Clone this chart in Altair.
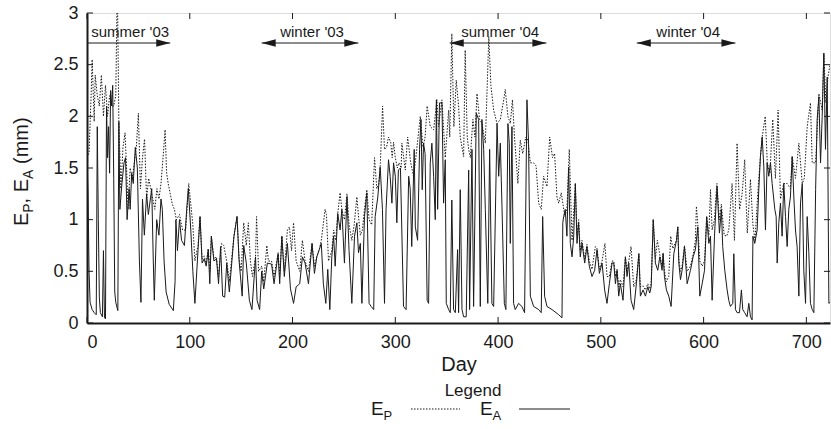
import altair as alt
import pandas as pd

# ---- data: (day, mm) ----
ea_points = [
    (0, 1.60), (1, 1.25), (2, 0.5), (3, 0.2), (5, 0.13), (7, 0.1), (9, 0.08), (10, 1.9), (11, 1.0),
    (12, 0.25), (13, 0.1), (15, 0.06), (16, 0.7), (17, 0.05), (18, 0.04), (19, 2.1), (20, 1.6),
    (21, 1.9), (22, 1.45), (23, 2.25), (24, 2.1), (25, 2.3), (26, 1.4), (27, 0.3), (28, 0.2),
    (30, 0.12), (31, 1.95), (32, 1.1), (34, 1.35), (36, 1.55), (37.5, 1.6), (39, 1.0), (41, 1.3),
    (42, 1.1), (43.5, 1.45), (45, 1.35), (47, 1.7), (49, 1.5), (51, 0.6), (52.5, 0.2), (54, 1.2),
    (55.8, 0.85), (58, 1.25), (59.7, 1.05), (61, 1.15), (63, 1.3), (64.5, 0.6), (65.5, 0.22),
    (67.8, 1.0), (70, 0.85), (72, 1.2), (73.3, 1.1), (75, 0.6), (77, 0.3), (80, 0.18), (84, 0.12),
    (85.7, 0.4), (86.5, 1.0), (88, 0.7), (90, 1.0), (92, 0.8), (94.8, 0.75), (97, 1.1), (98.6, 1.3),
    (101, 0.9), (103, 0.5), (105, 0.19), (108, 0.7), (110, 1.03), (112, 0.58), (114, 0.62),
    (116, 0.55), (118, 0.71), (119.5, 0.38), (121, 0.84), (123.5, 0.6), (126, 0.62), (128, 0.38),
    (130, 0.74), (132, 0.26), (134, 0.25), (136, 0.58), (138.5, 0.3), (143, 0.84), (146, 1.03),
    (148, 0.6), (151, 0.26), (152.5, 0.75), (155, 0.58), (158, 0.22), (160.5, 0.13), (164, 0.64),
    (165.5, 0.22), (168, 0.13), (170, 0.5), (172, 0.33), (175.5, 0.58), (179.6, 0.57), (182, 0.38),
    (186, 0.67), (187.5, 0.38), (189.6, 0.84), (192, 0.45), (195, 0.77), (198, 0.33), (201, 0.19),
    (203.5, 0.35), (207, 0.38), (209.6, 0.64), (212.2, 0.58), (215.5, 0.38), (219, 0.77),
    (221.3, 0.48), (223.6, 0.64), (226, 0.71), (228, 0.77), (230, 0.38), (232.4, 0.19),
    (234.3, 0.52), (236.3, 0.13), (238.2, 0.64), (240, 0.84), (241.5, 0.55), (244, 1.06),
    (246.3, 0.9), (248, 1.1), (250.5, 0.58), (253, 1.22), (255, 0.7), (257.7, 0.19), (260.3, 0.84),
    (262.6, 0.97), (264.2, 0.68), (266, 0.77), (267.5, 0.19), (270, 1.03), (272.3, 1.26),
    (274.5, 0.19), (276.5, 0.16), (279, 0.13), (280.4, 1.03), (283, 1.22), (285.3, 1.51),
    (287.5, 1.1), (289.5, 0.19), (291, 1.1), (293.4, 1.58), (295, 1.42), (296.7, 1.16),
    (298.3, 1.55), (300, 1.42), (301.5, 0.97), (303, 1.48), (305, 1.5), (308, 0.16), (310.5, 0.13),
    (313, 1.42), (314.5, 1.3), (316, 0.74), (318.4, 1.68), (319.5, 0.93), (321.7, 0.8),
    (323.6, 1.68), (325, 1.97), (326.2, 1.29), (327.5, 1.74), (329, 1.64), (331, 0.22),
    (332.4, 0.19), (334, 1.55), (335.6, 1.74), (337.3, 1.42), (338.9, 1.0), (340, 2.16),
    (341.2, 1.1), (343, 2.13), (345.4, 2.13), (347, 1.16), (348.6, 1.58), (349.6, 0.19),
    (351.9, 0.13), (353.5, 0.1), (355, 1.19), (356.7, 0.13), (358.4, 0.1), (360.6, 0.71),
    (361.6, 0.1), (363.2, 1.29), (364.9, 0.13), (366.5, 0.06), (369, 0.06), (371.4, 1.48),
    (372.3, 0.13), (374.6, 1.68), (376.2, 0.16), (378.8, 2.03), (381.1, 1.97), (382.7, 0.16),
    (384.3, 1.97), (386, 1.68), (387.6, 1.1), (390, 0.19), (391.8, 1.68), (394, 0.19),
    (395.7, 0.16), (399, 1.93), (400.6, 1.42), (402.2, 1.74), (403.8, 1.13), (406.1, 0.19),
    (407.6, 0.13), (409.6, 1.93), (410.9, 1.74), (411.9, 0.77), (413.5, 1.9), (415.1, 0.19),
    (416.7, 0.13), (420, 0.19), (423.2, 0.16), (425.8, 0.1), (428.1, 2.16), (429.7, 1.74),
    (431.4, 0.26), (434.6, 0.16), (439.5, 0.13), (442, 0.1), (443.4, 1.03), (445.3, 0.26),
    (447.6, 0.16), (452.5, 0.13), (459, 0.08), (462.2, 0.05), (463, 0.97), (463.8, 1.03),
    (465.4, 1.1), (467, 0.84), (468.7, 1.51), (470.3, 0.77), (472, 0.64), (473.6, 0.84),
    (475.2, 1.35), (476.8, 0.77), (478.4, 0.97), (480, 0.64), (481.7, 0.77), (484.3, 0.58),
    (486.5, 0.74), (488.8, 0.55), (491.4, 0.45), (494, 0.51), (496.3, 0.71), (498.6, 0.48),
    (501.2, 0.58), (503.7, 0.32), (506, 0.19), (508.3, 0.38), (510.9, 0.58), (512.6, 0.58),
    (514.2, 0.38), (515.8, 0.51), (517.4, 0.26), (519, 0.38), (521.6, 0.22), (523.9, 0.64),
    (525.5, 0.45), (527.2, 0.58), (529.4, 0.22), (532, 0.13), (534.6, 0.38), (537, 0.67),
    (538.5, 0.26), (541.1, 0.32), (543.4, 0.26), (545.7, 0.35), (547.6, 0.29), (549, 0.35),
    (551, 1.0), (553.1, 0.58), (555.4, 0.51), (557.4, 0.64), (559.6, 0.51), (560.6, 0.67),
    (561.9, 0.45), (563.8, 0.32), (566.1, 0.26), (568.4, 0.16), (571, 0.67), (573.6, 0.8),
    (574.9, 0.93), (575.9, 0.58), (577.5, 0.42), (579.1, 0.51), (581.4, 0.74), (584, 0.38),
    (587.2, 0.51), (589.8, 0.64), (592, 0.71), (594.4, 0.93), (596.3, 0.26), (598.6, 0.38),
    (600.9, 0.51), (603, 1.03), (605.1, 0.77), (606.7, 0.84), (608.3, 0.22), (610.6, 0.84),
    (612.5, 1.22), (613.1, 1.32), (615.4, 0.87), (617.3, 1.1), (618.6, 0.74), (620.6, 0.51),
    (622.9, 0.32), (624.5, 0.22), (626.1, 0.16), (628.4, 0.19), (629.4, 0.67), (631, 0.13),
    (632.6, 0.1), (634.9, 0.1), (636.8, 0.32), (638.1, 0.13), (640, 0.1), (642.3, 0.06),
    (644, 0.19), (645.6, 0.06), (647.2, 0.03), (648, 0.84), (649.8, 0.77), (652.1, 0.9),
    (653.7, 1.29), (655.3, 1.61), (657, 1.8), (658.6, 1.51), (660.2, 0.9), (661.8, 1.55),
    (663.4, 1.42), (665.1, 1.55), (666.7, 1.35), (669.3, 1.1), (670.6, 1.03), (671.6, 0.58),
    (673.2, 0.97), (674.8, 1.16), (676.4, 0.84), (678, 1.35), (679.7, 1.03), (681.3, 0.74),
    (682.9, 1.1), (684.5, 1.22), (686.2, 1.61), (687.8, 1.22), (689.4, 0.9), (691, 0.74),
    (692.7, 0.26), (694.3, 1.16), (696, 1.35), (697.5, 0.51), (699.2, 0.19), (700.8, 1.03),
    (702.4, 0.68), (704, 0.19), (705.7, 0.13), (707.3, 0.1), (709, 1.29), (710.5, 1.97),
    (712.2, 2.19), (713.8, 1.55), (715.4, 2.0), (717, 2.61), (718.6, 1.68), (720.3, 2.38),
    (721.9, 0.19), (723, 0.2),
]

ep_points = [
    (0, 1.6), (2, 1.65), (4, 2.2), (5, 2.55), (7, 1.95), (8, 2.4), (10, 2.2), (12, 2.1), (14, 2.4),
    (16, 2.0), (18, 2.3), (20, 2.0), (22, 2.2), (24, 2.1), (26, 2.1), (28, 2.2), (29.5, 3.3),
    (31, 1.95), (33, 1.3), (35, 1.7), (37, 1.84), (38.5, 1.5), (40, 1.1), (42, 1.5), (44, 1.4),
    (46, 1.55), (48, 1.7), (50, 2.03), (52, 1.3), (54, 1.6), (56, 1.78), (58, 1.2), (60, 1.4),
    (62, 1.3), (64, 1.2), (66, 1.1), (68, 1.3), (70, 1.2), (72, 1.35), (74, 1.6), (76, 1.87),
    (77.5, 1.45), (79, 1.35), (81, 1.25), (83, 1.15), (85, 1.1), (87, 1.0), (90, 1.05), (93, 0.9),
    (96, 0.9), (99, 1.35), (101, 1.15), (103, 0.95), (105, 0.6), (108, 0.75), (110, 1.03),
    (112, 0.62), (114, 0.65), (116, 0.58), (118, 0.72), (119.5, 0.5), (121, 0.84), (123.5, 0.62),
    (126, 0.64), (128, 0.45), (131, 0.77), (133, 0.75), (136, 0.6), (138.5, 0.4), (143, 0.84),
    (146, 1.03), (148, 0.62), (150, 0.5), (152.5, 0.97), (155, 0.75), (157, 0.97), (159, 0.6),
    (161, 0.45), (164, 0.64), (165, 1.03), (167, 0.5), (170, 0.55), (172, 0.4), (175, 0.75),
    (176.5, 0.6), (179.6, 0.6), (182, 0.45), (186, 0.68), (187.5, 0.45), (189.6, 0.84), (192, 0.5),
    (195, 0.9), (197, 0.93), (199, 0.7), (201, 0.97), (203.5, 0.6), (207, 0.5), (209.6, 0.8),
    (212.2, 0.6), (215.5, 0.5), (219, 0.77), (221.3, 0.55), (223.6, 0.64), (226, 0.71), (228, 0.8),
    (231.7, 1.1), (233, 1.05), (235, 0.6), (238.2, 0.7), (240, 0.9), (242, 0.8),
    (244, 1.06), (246.3, 1.26), (248, 1.1), (250.5, 1.0), (253, 1.25), (255, 0.95), (257.7, 0.8),
    (260, 0.95), (262.6, 1.22), (264.5, 1.0), (266, 0.85), (268, 0.9), (270, 1.1), (272.3, 1.29),
    (274.5, 1.0), (277, 0.95), (279.8, 1.6), (282, 1.3), (284, 1.35), (285.5, 1.55), (287.6, 2.1),
    (289.5, 1.68), (291.5, 1.7), (293.4, 1.8), (295.5, 1.75), (297, 1.6), (298.3, 1.75),
    (300, 1.6), (302, 1.5), (303.5, 1.55), (305.7, 1.5), (306.4, 1.74), (309.7, 1.48), (312, 1.8),
    (315, 1.55), (317.8, 1.42), (320, 1.6), (324.3, 2.0), (327, 1.7), (329, 1.8), (331, 2.1),
    (334, 1.9), (337.3, 1.87), (340.5, 2.16), (342, 1.9), (345.4, 2.16), (348.6, 1.6),
    (351.9, 2.06), (353, 1.8), (355, 2.8), (357, 1.9), (359.3, 2.35), (361.6, 2.1), (363.2, 1.8),
    (366.5, 1.61), (368, 2.64), (370, 1.8), (371.4, 1.68), (373, 1.6), (375.5, 1.97),
    (377.5, 1.8), (379.5, 2.22), (382, 1.97), (384.3, 1.93), (387.6, 1.74), (391, 2.77),
    (393, 2.3), (395.7, 2.06), (399, 1.93), (402.2, 1.97), (405.5, 2.16), (407, 2.26),
    (409.6, 2.0), (411.9, 1.93), (414, 2.16), (416, 1.8), (419.3, 1.35), (421.6, 1.77),
    (424, 1.64), (427, 1.8), (429, 1.77), (431.4, 1.55), (434.6, 1.55), (437, 1.52), (439.5, 1.16),
    (442, 1.1), (444.3, 1.42), (447.6, 1.32), (450.2, 1.8), (453, 1.6), (455, 1.64), (457.3, 1.22),
    (459, 1.16), (461.5, 1.26), (465, 1.03), (467, 1.1), (469.3, 1.68), (472, 0.8),
    (475.2, 1.35), (476.8, 0.85), (478.4, 1.0), (480, 0.7), (481.7, 0.8), (484.3, 0.62),
    (486.5, 0.76), (488.8, 0.6), (491.4, 0.52), (494.7, 0.74), (496.3, 0.72), (498.6, 0.52),
    (501.2, 0.6), (504, 0.77), (506, 0.45), (508.3, 0.45), (510.9, 0.6), (512.6, 0.6),
    (514.2, 0.45), (515.8, 0.52), (517.4, 0.35), (519, 0.42), (521.6, 0.35), (523.9, 0.64),
    (525.5, 0.5), (527.2, 0.6), (529.4, 0.74), (532, 0.35), (534.6, 0.42), (537, 0.67),
    (538.5, 0.35), (541.1, 0.36), (543.4, 0.32), (545.7, 0.38), (547.6, 0.33), (549, 0.38),
    (551, 1.0), (553.1, 0.62), (555, 0.8), (557.4, 0.66), (559.6, 0.55), (560.6, 0.68),
    (561.9, 0.5), (563.8, 0.4), (566.1, 0.45), (568, 0.84), (570, 0.72), (573.6, 0.8),
    (574.9, 0.93), (575.9, 0.62), (577.5, 0.5), (579.1, 0.55), (581.4, 0.75), (584, 0.5),
    (587.2, 0.55), (589.8, 0.66), (592, 0.8), (593, 1.13), (594.4, 0.95), (596.3, 0.6),
    (598.6, 0.55), (600.9, 0.6), (603, 1.03), (605.1, 0.85), (606.7, 1.29), (608.3, 0.9),
    (610.6, 1.0), (612.5, 1.3),
    (613, 1.35), (615.4, 1.0), (617.3, 1.15), (620, 0.85), (622.5, 0.84), (624.5, 0.9),
    (627.7, 1.35), (630, 0.8), (632.6, 1.74), (635, 1.1), (637.5, 1.25), (640, 1.58),
    (642.5, 0.87), (645.6, 1.39), (648, 0.95), (650, 0.8), (653, 1.3), (655.3, 1.61), (657, 1.8),
    (660, 2.0), (662, 1.55), (664.5, 1.45), (667.3, 1.97), (669.9, 1.4), (672.5, 2.06),
    (674.8, 1.2), (678, 1.35), (681.3, 1.35), (684.5, 1.3), (686.2, 1.61), (689.4, 1.4),
    (692.7, 1.74), (696, 1.35), (698, 1.4), (700.8, 1.9), (704, 2.13), (705.7, 1.55), (709, 1.55),
    (712.2, 2.22), (715.4, 2.06), (717, 2.61), (719, 2.13), (721, 2.38), (723, 2.5),
]

season_labels = ["summer '03", "winter '03", "summer '04", "winter '04"]
season_start = [0, 170, 353, 535]
season_end = [81, 264, 447, 631]
season_mid = [42, 219, 402, 585]
season_left_head = [False, True, True, True]

x_ticks = [0, 100, 200, 300, 400, 500, 600, 700]
y_ticks = [0, 0.5, 1, 1.5, 2, 2.5, 3]

# ---- layout ----
W, H = 743, 310
FONT = "Liberation Sans"
INK = "#1a1a1a"

df_a = pd.DataFrame(ea_points, columns=["day", "value"])
df_p = pd.DataFrame(ep_points, columns=["day", "value"])
df_s = pd.DataFrame({"label": season_labels, "start": season_start,
                     "end": season_end, "mid": season_mid, "lefthead": season_left_head})
df_xt = pd.DataFrame({"day": x_ticks})
df_yt = pd.DataFrame({"value": y_ticks})

xs = alt.Scale(domain=[0, 723], nice=False, zero=False)
ys = alt.Scale(domain=[0, 3], nice=False)

x_enc = alt.X("day:Q", scale=xs, axis=alt.Axis(
    values=x_ticks, title="Day", ticks=False, grid=False, domainColor=INK, domainWidth=2,
    labelFont=FONT, labelFontSize=18, labelColor=INK, labelPadding=10,
    titleFont=FONT, titleFontSize=20, titleFontWeight="normal", titleColor=INK, titlePadding=3))
y_enc = alt.Y("value:Q", scale=ys, axis=alt.Axis(
    values=y_ticks, title=None, ticks=False, grid=False, domainColor=INK, domainWidth=2,
    labelFont=FONT, labelFontSize=18, labelColor=INK, labelPadding=9, format="~g"))

line_p = alt.Chart(df_p).mark_line(color=INK, strokeWidth=1, strokeDash=[1.5, 1.5], clip=True).encode(
    x=x_enc, y=y_enc)
line_a = alt.Chart(df_a).mark_line(color=INK, strokeWidth=1, clip=True).encode(
    x=alt.X("day:Q", scale=xs), y=alt.Y("value:Q", scale=ys))

# inward ticks
xt_bottom = alt.Chart(df_xt).mark_rule(color=INK, strokeWidth=1).encode(
    x=alt.X("day:Q", scale=xs), y=alt.value(H), y2=alt.value(H - 6))
xt_top = alt.Chart(df_xt).mark_rule(color=INK, strokeWidth=1).encode(
    x=alt.X("day:Q", scale=xs), y=alt.value(0), y2=alt.value(6))
yt_left = alt.Chart(df_yt).mark_rule(color=INK, strokeWidth=1).encode(
    y=alt.Y("value:Q", scale=ys), x=alt.value(0), x2=alt.value(6))
yt_right = alt.Chart(df_yt).mark_rule(color=INK, strokeWidth=1).encode(
    y=alt.Y("value:Q", scale=ys), x=alt.value(W - 6), x2=alt.value(W))

# season annotations
ARROW_Y = 30
s_rule = alt.Chart(df_s).mark_rule(color=INK, strokeWidth=1).encode(
    x=alt.X("start:Q", scale=xs), x2="end:Q", y=alt.value(ARROW_Y))
s_head_r = alt.Chart(df_s).mark_point(
    shape="M0,0 L-2,-0.55 L-2,0.55 Z", filled=True, size=196, color=INK, opacity=1, strokeWidth=0
).encode(x=alt.X("end:Q", scale=xs), y=alt.value(ARROW_Y))
s_head_l = alt.Chart(df_s).transform_filter("datum.lefthead").mark_point(
    shape="M0,0 L2,-0.55 L2,0.55 Z", filled=True, size=196, color=INK, opacity=1, strokeWidth=0
).encode(x=alt.X("start:Q", scale=xs), y=alt.value(ARROW_Y))
s_text = alt.Chart(df_s).mark_text(font=FONT, fontSize=15, color=INK, baseline="alphabetic",
                                   align="center").encode(
    x=alt.X("mid:Q", scale=xs), y=alt.value(ARROW_Y - 6), text="label:N")


def txt(s, x, y, size, angle=0, align="left", baseline="alphabetic"):
    kw = dict(font=FONT, fontSize=size, color=INK, align=align, baseline=baseline)
    if angle:
        kw["angle"] = angle
    return alt.Chart(pd.DataFrame({"t": [s]})).mark_text(**kw).encode(
        text="t:N", x=alt.value(x), y=alt.value(y))


# y-axis title  E_P, E_A (mm)  (rotated, built from pieces for subscripts)
OX, OY = 87, 13
yb = 226
ytitle = [
    txt("E", 28 - OX, yb - OY, 20, 270),
    txt("P", 33 - OX, yb - 13.3 - OY, 14, 270),
    txt(", E", 28 - OX, yb - 22.6 - OY, 20, 270),
    txt("A", 33 - OX, yb - 47.1 - OY, 14, 270),
    txt("(mm)", 28 - OX, yb - 62.0 - OY, 20, 270),
]

# legend
LEG_Y = 415
legend = [
    txt("Legend", 473 - OX, 396 - OY, 17, align="center"),
    txt("E", 371 - OX, LEG_Y - OY, 19),
    txt("P", 383.5 - OX, LEG_Y + 5 - OY, 13),
    txt("E", 480 - OX, LEG_Y - OY, 19),
    txt("A", 492.5 - OX, LEG_Y + 5 - OY, 13),
    alt.Chart(pd.DataFrame({"k": ["E_P"]})).mark_rule(color=INK, strokeWidth=1, strokeDash=[1.5, 1.5]).encode(
        x=alt.value(411 - OX), x2=alt.value(460 - OX), y=alt.value(LEG_Y - 6 - OY)),
    alt.Chart(pd.DataFrame({"k": ["E_A"]})).mark_rule(color=INK, strokeWidth=1).encode(
        x=alt.value(519 - OX), x2=alt.value(570 - OX), y=alt.value(LEG_Y - 6 - OY)),
]

chart = alt.layer(
    line_p, line_a, xt_bottom, xt_top, yt_left, yt_right,
    s_rule, s_head_r, s_head_l, s_text, *ytitle, *legend
).properties(
    width=W, height=H,
    autosize=alt.AutoSizeParams(type="none"),
    padding={"left": OX, "top": OY, "right": 1, "bottom": 106},
).configure_view(stroke=INK, strokeWidth=1).configure(background="white")

chart.save("out.html", embed_options={"renderer": "svg", "actions": False})
